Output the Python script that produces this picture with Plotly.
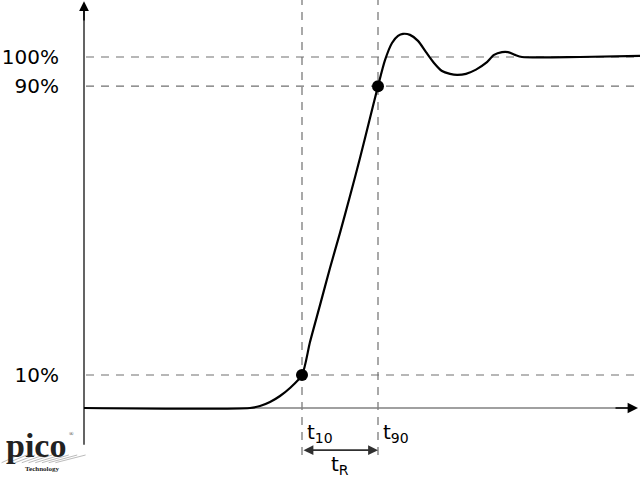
import plotly.graph_objects as go

# ---- data (time in arbitrary units, level in % of final value) ----
t_curve = [0, 16.6, 17.6, 18.6, 19.6, 20.6, 21.8, 22.6, 23.6, 24.6, 25.6, 26.6, 27.6, 28.6,
           29.4, 30.1, 30.8, 31.4, 31.9, 32.6, 33.4, 34.2, 35.0, 35.8, 36.6, 37.3, 38.2,
           39.2, 40.2, 41.0, 41.8, 42.4, 43.1, 43.8, 49.6, 55.6]
v_curve = [0, 0, 0.57, 1.71, 3.42, 5.70, 9.40, 18.8, 29.3, 39.9, 49.9, 60.4, 71.2, 82.6,
           91.7, 99.1, 104.0, 106.0, 106.6, 106.3, 104.6, 101.4, 98.3, 96.0, 95.2, 94.9, 95.2,
           96.4, 98.3, 100.6, 101.4, 101.4, 100.6, 100.0, 100.0, 100.3]

level_vals = [9.4, 91.7, 100.0]
level_labels = ["10%", "90%", "100%"]
t10, t90 = 21.8, 29.4
v10, v90 = 9.4, 91.7

X_RANGE = [-0.4, 55.6]
Y_RANGE = [-21.08, 116.24]

fig = go.Figure()

# dashed guide lines
for lv in level_vals:
    fig.add_shape(type="line", x0=0.2, x1=X_RANGE[1], y0=lv, y1=lv,
                  line=dict(color="#707070", width=1.2, dash="8px,7px"), layer="below")
for tv in (t10, t90):
    fig.add_shape(type="line", x0=tv, x1=tv, y0=-13.4, y1=Y_RANGE[1],
                  line=dict(color="#707070", width=1.2, dash="8px,7px"), layer="below")

# axes lines
fig.add_shape(type="line", x0=0, x1=54.9, y0=0, y1=0,
              line=dict(color="#808080", width=1.6), layer="below")
fig.add_shape(type="line", x0=0, x1=0, y0=-10.5, y1=114.5,
              line=dict(color="#303030", width=1.5), layer="below")

# curve
fig.add_trace(go.Scatter(x=t_curve, y=v_curve, mode="lines",
                         line=dict(color="black", width=2.2, shape="spline", smoothing=0.7),
                         hoverinfo="skip", showlegend=False))
# points
fig.add_trace(go.Scatter(x=[t10, t90], y=[v10, v90], mode="markers",
                         marker=dict(color="black", size=12),
                         hoverinfo="skip", showlegend=False))

# arrowheads for axes
fig.add_annotation(x=55.4, y=0, ax=53.0, ay=0, xref="x", yref="y", axref="x", ayref="y",
                   showarrow=True, arrowhead=2, arrowsize=1.3, arrowwidth=1.6,
                   arrowcolor="black", text="")
fig.add_annotation(x=0, y=115.9, ax=0, ay=110, xref="x", yref="y", axref="x", ayref="y",
                   showarrow=True, arrowhead=2, arrowsize=1.3, arrowwidth=1.5,
                   arrowcolor="black", text="")

# rise-time double arrow
fig.add_annotation(x=t90, y=-12.0, ax=t10, ay=-12.0, xref="x", yref="y", axref="x", ayref="y",
                   showarrow=True, arrowhead=2, startarrowhead=2, arrowside="end+start",
                   arrowsize=1.1, startarrowsize=1.1, arrowwidth=1.8, arrowcolor="#303030",
                   text="")

font = dict(family="DejaVu Sans, Verdana, sans-serif", size=20, color="black")
fig.add_annotation(x=t10 + 0.3, y=-7.0, text="t<sub>10</sub>", showarrow=False,
                   xanchor="left", yanchor="middle", font=font)
fig.add_annotation(x=t90 + 0.3, y=-7.0, text="t<sub>90</sub>", showarrow=False,
                   xanchor="left", yanchor="middle", font=font)
fig.add_annotation(x=(t10 + t90) / 2, y=-16.2, text="t<sub>R</sub>", showarrow=False,
                   xanchor="center", yanchor="middle", font=font)

# logo approximation
fig.add_annotation(xref="paper", yref="paper", x=-0.079, y=0.075, text="<b>pico</b>",
                   showarrow=False, xanchor="center", yanchor="middle",
                   font=dict(family="Liberation Serif, serif", size=34, color="#222"))
fig.add_annotation(xref="paper", yref="paper", x=-0.016, y=0.100, text="®",
                   showarrow=False, xanchor="center", yanchor="middle",
                   font=dict(family="Liberation Serif, serif", size=6, color="#222"))
fig.add_annotation(xref="paper", yref="paper", x=-0.068, y=0.028, text="<b>Technology</b>",
                   showarrow=False, xanchor="center", yanchor="middle",
                   font=dict(family="Liberation Serif, serif", size=7, color="#222"))
for i in range(9):
    fig.add_shape(type="line", xref="paper", yref="paper",
                  x0=-0.14 + i * 0.012, x1=-0.11 + i * 0.015,
                  y0=0.040, y1=0.056, line=dict(color="#aaaaaa", width=0.8))

fig.update_layout(
    width=640, height=482,
    margin=dict(l=80, r=0, t=0, b=0),
    paper_bgcolor="white", plot_bgcolor="white",
    xaxis=dict(range=X_RANGE, visible=False, fixedrange=True),
    yaxis=dict(range=Y_RANGE, showgrid=False, zeroline=False, showline=False,
               tickvals=level_vals, ticktext=level_labels, ticks="",
               ticklabelstandoff=20, tickfont=font, fixedrange=True),
    showlegend=False,
)

fig.write_html("out.html", config={"displayModeBar": False},
               post_script="document.body.style.margin='0';")
